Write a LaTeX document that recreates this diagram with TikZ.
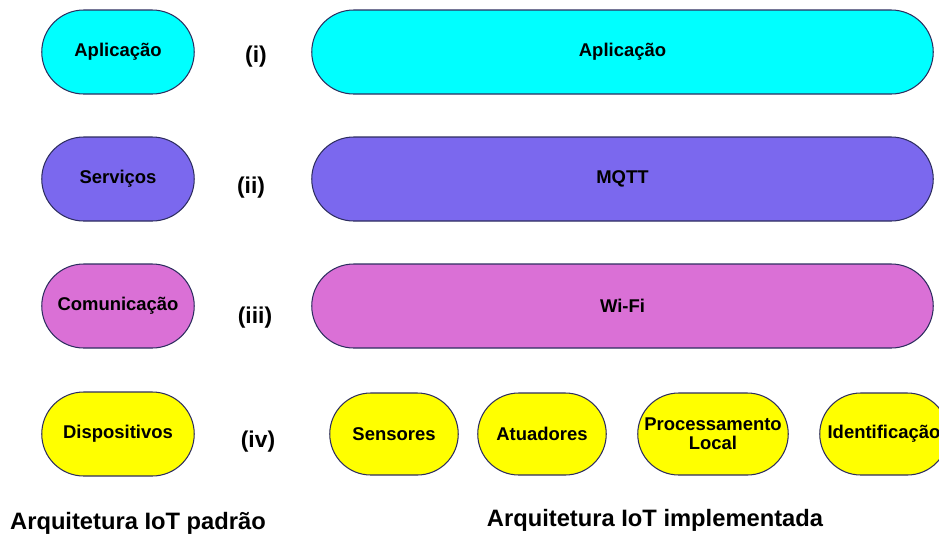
\documentclass[tikz,border=0pt]{standalone}
\usepackage{fontspec}
\setmainfont{Liberation Sans}
\usetikzlibrary{shapes.misc}

\definecolor{camAplic}{RGB}{0,255,255}
\definecolor{camServ}{RGB}{123,104,238}
\definecolor{camCom}{RGB}{218,112,214}
\definecolor{camDisp}{RGB}{255,255,0}
\definecolor{borda}{RGB}{45,45,95}

\begin{document}
\begin{tikzpicture}[x=0.2mm,y=-0.2mm,
    camada/.style={shape=rounded rectangle,draw=borda,line width=0.6pt,
        minimum height=16.8mm,inner sep=1pt,font=\bfseries\fontsize{10.5}{11}\selectfont},
    padrao/.style={camada,minimum width=31.2mm},
    larga/.style={camada,minimum width=125mm},
    disp/.style={camada,fill=camDisp,minimum height=16.4mm,minimum width=26.4mm,align=center},
    rotulo/.style={font=\bfseries\fontsize{13}{15}\selectfont},
    titulo/.style={font=\bfseries\fontsize{13.5}{16}\selectfont}]
                \useasboundingbox (0,0) rectangle (939,540);

                % arquitetura padrao
                \node[padrao,fill=camAplic](aplic)at(118, 52){Aplicação};
                \node[padrao,fill=camServ](serv)at(118, 179){Serviços};
                \node[padrao,fill=camCom](com)at(118, 306){Comunicação};
                \node[padrao,fill=camDisp](disp)at(118, 434){Dispositivos};

                % niveis
                \node[rotulo](n1)at(256, 57){(i)};
                \node[rotulo](n2)at(251, 188){(ii)};
                \node[rotulo](n3)at(255, 318){(iii)};
                \node[rotulo](n4)at(258, 442){(iv)};

                % arquitetura implementada
                \node[larga,fill=camAplic](app)at(622.5, 52){Aplicação};
                \node[larga,fill=camServ](mqtt)at(622.5, 179){MQTT};
                \node[larga,fill=camCom](wifi)at(622.5, 306){Wi-Fi};
                \node[disp](sens)at(394, 434){Sensores};
                \node[disp](atua)at(542, 434){Atuadores};
                \node[disp,minimum width=30.8mm](proc)at(713, 434){Processamento\\Local};
                \node[disp](ident)at(884, 434){Identificação};

                \node[titulo](tpad)at(138, 523){Arquitetura IoT padrão};
                \node[titulo](timp)at(655, 520){Arquitetura IoT implementada};
\end{tikzpicture}
\end{document}
